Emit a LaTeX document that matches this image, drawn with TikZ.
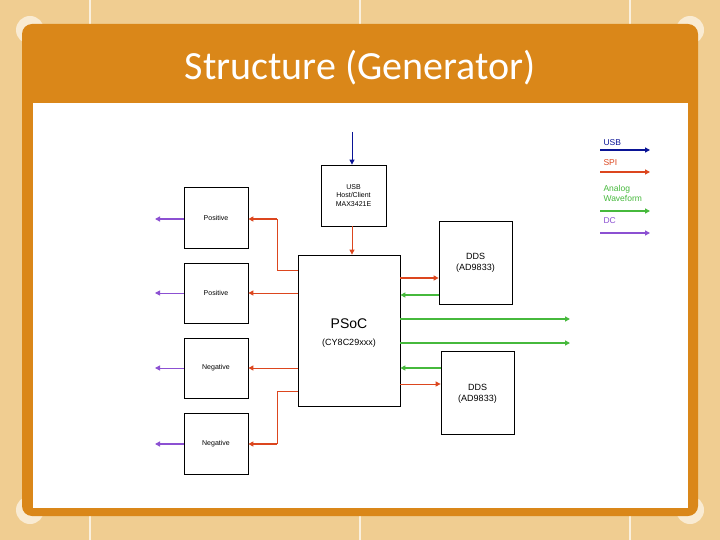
\documentclass[tikz,border=0pt]{standalone}
\usepackage{fontspec}
\setmainfont{Liberation Sans}
\newfontfamily\titlefont{Carlito}
\usetikzlibrary{arrows.meta}
\definecolor{spi}{RGB}{220,70,30}
\definecolor{usb}{RGB}{10,20,150}
\definecolor{ana}{RGB}{70,185,60}
\definecolor{dcc}{RGB}{140,80,210}
\definecolor{orng}{RGB}{218,135,25}
\definecolor{bg}{RGB}{240,205,145}
\begin{document}
\begin{tikzpicture}[x=1pt,y=-1pt,
  box/.style={draw,line width=0.8pt,inner sep=0pt},
  lbl/.style={font=\fontsize{7}{8.5}\selectfont,align=center},
  arr/.style={-{Triangle[length=5pt,width=5pt]},line width=1pt},
  a/.style={arr,spi}, u/.style={arr,usb}, g/.style={arr,ana}, p/.style={arr,dcc}]
\useasboundingbox (0,0) rectangle (720,540);
\fill[bg] (0,0) rectangle (720,540);
\foreach \x in {90,360,630}{\draw[white!70!bg,line width=1.5pt] (\x,0)--(\x,540);}
\fill[white!60!bg] (30,30) circle (14); \fill[white!60!bg] (690,30) circle (14);
\fill[white!60!bg] (30,510) circle (14); \fill[white!60!bg] (690,510) circle (14);
\fill[orng,rounded corners=10pt] (22,24) rectangle (698,516);
\fill[white] (33,103) rectangle (688,508);
\node[font=\titlefont\fontsize{40}{44}\selectfont,text=white] (title) at (360,68) {Structure (Generator)};
% boxes
\node[box,minimum width=65pt,minimum height=61pt] (usbb) at (353.5,195.5) {};
\node[lbl] at (353.5,195.5) {USB\\Host/Client\\MAX3421E};
\node[box,minimum width=102pt,minimum height=151pt] (psoc) at (349,330.5) {};
\node[font=\fontsize{14}{16}\selectfont] (ps) at (349,324) {PSoC};
\node[font=\fontsize{9}{10}\selectfont] (cy) at (349,343) {(CY8C29xxx)};
\node[box,minimum width=73pt,minimum height=83pt] (dds1) at (475.5,262.5) {};
\node[font=\fontsize{9}{11}\selectfont,align=center] at (475.5,263) {DDS\\(AD9833)};
\node[box,minimum width=73pt,minimum height=83pt] (dds2) at (477.5,392.5) {};
\node[font=\fontsize{9}{11}\selectfont,align=center] at (477.5,393.5) {DDS\\(AD9833)};
\node[box,minimum width=64pt,minimum height=61pt] (b1) at (216,217.5) {};
\node[box,minimum width=64pt,minimum height=60pt] (b2) at (216,293) {};
\node[box,minimum width=64pt,minimum height=60pt] (b3) at (216,368) {};
\node[box,minimum width=64pt,minimum height=61pt] (b4) at (216,443.5) {};
\node[lbl] at (216,218) {Positive};
\node[lbl] at (216,293) {Positive};
\node[lbl] at (216,368) {Negative};
\node[lbl] at (216,444) {Negative};
% connectors
\coordinate (usbin) at (352,132);
\draw[u] (usbin) -- (usbb.north -| usbin);
\draw[a] (usbb.south -| usbin) -- (psoc.north -| usbin);
\draw[spi,line width=0.8pt] (psoc.west |- 0,270) -- (277,270) -- (277,219);
\draw[a,line width=1.6pt] (277,219) -- (b1.east |- 0,219);
\draw[a] (psoc.west |- 0,293) -- (b2.east |- 0,293);
\draw[a] (psoc.west |- 0,368) -- (b3.east |- 0,368);
\draw[spi,line width=0.8pt] (psoc.west |- 0,391) -- (277,391) -- (277,444);
\draw[a,line width=1.6pt] (277,444) -- (b4.east |- 0,444);
\coordinate (o1) at (155,219); \coordinate (o2) at (155,293);
\coordinate (o3) at (155,368); \coordinate (o4) at (155,444);
\draw[p,line width=1.6pt] (b1.west |- o1) -- (o1);
\draw[p] (b2.west |- o2) -- (o2);
\draw[p] (b3.west |- o3) -- (o3);
\draw[p,line width=1.6pt] (b4.west |- o4) -- (o4);
\draw[a,line width=1.6pt] (psoc.east |- 0,278) -- (dds1.west |- 0,278);
\draw[g,line width=1.6pt] (dds1.west |- 0,295) -- (psoc.east |- 0,295);
\coordinate (g1) at (570,319); \coordinate (g2) at (570,343);
\draw[g,line width=1.6pt] (psoc.east |- g1) -- (g1);
\draw[g,line width=1.6pt] (psoc.east |- g2) -- (g2);
\draw[g,line width=1.6pt] (dds2.west |- 0,368) -- (psoc.east |- 0,368);
\draw[a] (psoc.east |- 0,384) -- (dds2.west |- 0,384);
% legend
\node[font=\fontsize{8.5}{10}\selectfont,text=usb,anchor=west] (lu) at (600,143) {USB};
\node[font=\fontsize{8.5}{10}\selectfont,text=spi,anchor=west] (ls) at (600,163) {SPI};
\node[font=\fontsize{8.5}{10}\selectfont,text=ana,anchor=west,align=left] (la) at (600,193) {Analog\\Waveform};
\node[font=\fontsize{8.5}{10}\selectfont,text=dcc,anchor=west] (ld) at (600,221) {DC};
\coordinate (lu2) at (650,150); \coordinate (ls2) at (650,172);
\coordinate (la2) at (650,211); \coordinate (ld2) at (650,233);
\draw[u,line width=1.2pt] (600,150) -- (lu2);
\draw[a,line width=1.2pt] (600,172) -- (ls2);
\draw[g,line width=1.2pt] (600,211) -- (la2);
\draw[p,line width=1.2pt] (600,233) -- (ld2);
\end{tikzpicture}
\end{document}
